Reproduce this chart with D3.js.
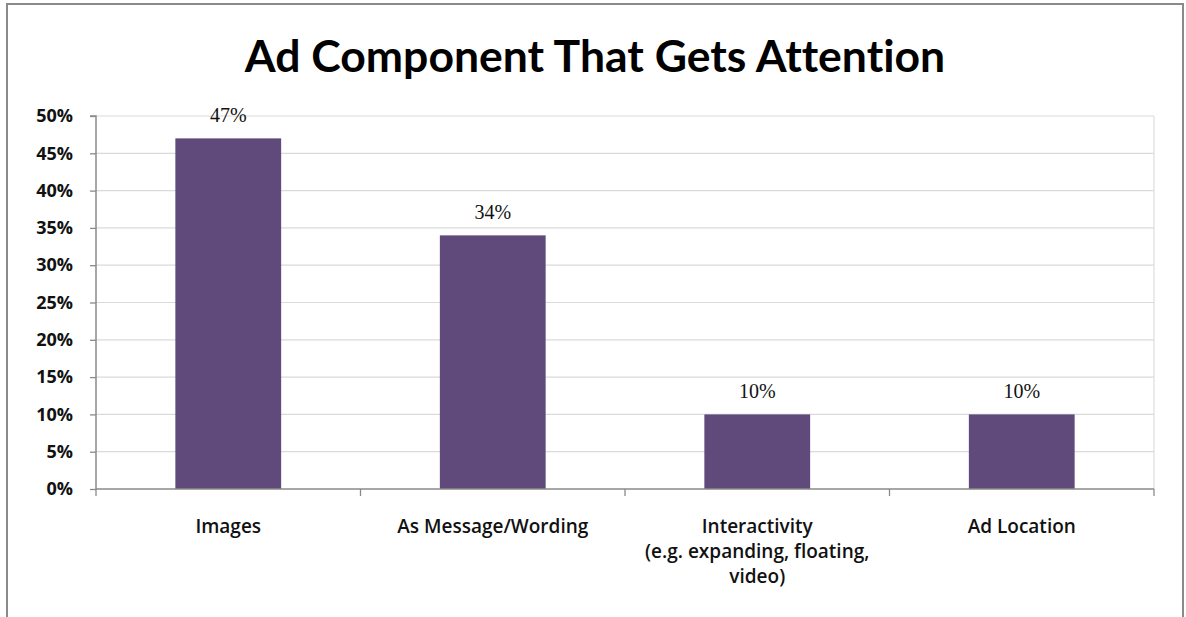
<!DOCTYPE html>
<html><head><meta charset="utf-8">
<script src="https://cdn.jsdelivr.net/npm/d3@7"></script>
<style>body{margin:0;background:#fff}svg{display:block}text{font-variant-ligatures:none;font-feature-settings:"liga" 0}</style>
</head><body>
<svg id="c" width="1186" height="617"></svg>
<script>
const categories = [["Images"], ["As Message/Wording"], ["Interactivity", "(e.g. expanding, floating,", "video)"], ["Ad Location"]];
const values = [0.47, 0.34, 0.10, 0.10];
const valueLabels = ["47%", "34%", "10%", "10%"];
const yTicks = [0, 0.05, 0.10, 0.15, 0.20, 0.25, 0.30, 0.35, 0.40, 0.45, 0.50];
const title = "Ad Component That Gets Attention";

const svg = d3.select("#c");
const W = 1186, H = 617;
const m = {left: 96, right: 1154, top: 116, bottom: 489};
const sans = "'Open Sans', Lato, sans-serif";

// outer frame
svg.append("path").attr("d", `M7,${H+2} L7,4 L1183,4 L1183,${H+2}`)
  .attr("fill", "none").attr("stroke", "#8a8a8a").attr("stroke-width", 2);

svg.append("text").attr("x", 595).attr("y", 72).attr("text-anchor", "middle")
  .attr("font-family", "Lato, 'Open Sans', sans-serif").attr("font-weight", 700)
  .attr("font-size", 44.5).attr("fill", "#000").text(title);

const xb = d3.scaleBand().domain(d3.range(values.length)).range([m.left, m.right]);
const y = d3.scaleLinear().domain([0, 0.5]).range([m.bottom, m.top]);

// gridlines
svg.append("g").selectAll("line").data(yTicks.slice(1)).join("line")
  .attr("x1", m.left).attr("x2", m.right).attr("y1", d => y(d)).attr("y2", d => y(d))
  .attr("stroke", "#dadada").attr("stroke-width", 1.2);
// right plot edge
svg.append("line").attr("x1", m.right).attr("x2", m.right).attr("y1", m.top).attr("y2", m.bottom)
  .attr("stroke", "#dedede").attr("stroke-width", 1.2);

// y axis
const yAxis = d3.axisLeft(y).tickValues(yTicks).tickFormat(d3.format(".0%")).tickSize(6).tickPadding(17);
const gy = svg.append("g").attr("transform", `translate(${m.left},0)`).call(yAxis);
gy.select(".domain").attr("stroke", "#8a8a8a").attr("stroke-width", 1.5).attr("d", `M-6,${m.top}H0V${m.bottom}`);
gy.selectAll(".tick line").attr("stroke", "#8a8a8a").attr("stroke-width", 1.3);
gy.selectAll(".tick text").attr("font-family", sans).attr("font-weight", 700)
  .attr("font-size", 18).attr("fill", "#111");

// bars
svg.append("g").selectAll("rect").data(values).join("rect")
  .attr("x", (d, i) => xb(i) + xb.bandwidth() * 0.3).attr("width", xb.bandwidth() * 0.4)
  .attr("y", d => y(d)).attr("height", d => m.bottom - y(d)).attr("fill", "#604a7b");

// value labels
svg.append("g").selectAll("text").data(values).join("text")
  .attr("x", (d, i) => xb(i) + xb.bandwidth() / 2).attr("y", d => y(d) - 16)
  .attr("text-anchor", "middle").attr("font-family", "'Liberation Serif', serif").attr("font-size", 20)
  .attr("fill", "#111").text((d, i) => valueLabels[i]);

// x axis
const gx = svg.append("g").attr("transform", `translate(0,${m.bottom})`);
gx.append("line").attr("x1", m.left).attr("x2", m.right).attr("stroke", "#8a8a8a").attr("stroke-width", 1.5);
gx.selectAll("line.t").data(d3.range(values.length + 1)).join("line").attr("class", "t")
  .attr("x1", i => i < values.length ? xb(i) : m.right).attr("x2", i => i < values.length ? xb(i) : m.right)
  .attr("y1", 0).attr("y2", 7).attr("stroke", "#8a8a8a").attr("stroke-width", 1.3);

const lbl = gx.selectAll("text.c").data(categories).join("text").attr("class", "c")
  .attr("text-anchor", "middle").attr("font-family", sans).attr("font-weight", 600)
  .attr("font-size", 19).attr("fill", "#111");
lbl.selectAll("tspan").data((d, i) => d.map(s => ({s, i}))).join("tspan")
  .attr("x", d => xb(d.i) + xb.bandwidth() / 2).attr("y", (d, j) => 44 + j * 25).text(d => d.s);
</script>
</body></html>
